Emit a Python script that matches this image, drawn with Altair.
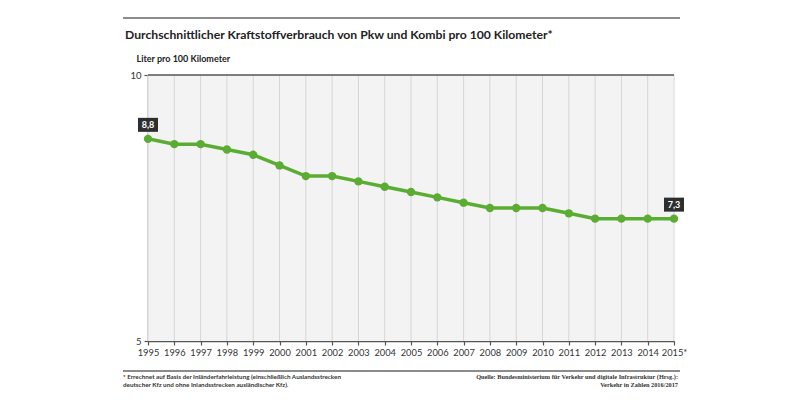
import altair as alt
import pandas as pd

# ---- data ----
years = ["1995", "1996", "1997", "1998", "1999", "2000", "2001", "2002", "2003",
         "2004", "2005", "2006", "2007", "2008", "2009", "2010", "2011", "2012",
         "2013", "2014", "2015*"]
values = [8.8, 8.7, 8.7, 8.6, 8.5, 8.3, 8.1, 8.1, 8.0, 7.9, 7.8, 7.7, 7.6,
          7.5, 7.5, 7.5, 7.4, 7.3, 7.3, 7.3, 7.3]
label_years = ["1995", "2015*"]
label_values = [8.8, 7.3]
label_texts = ["8,8", "7,3"]

title_text = "Durchschnittlicher Kraftstoffverbrauch von Pkw und Kombi pro 100 Kilometer*"
y_title = "Liter pro 100 Kilometer"
foot1 = "* Errechnet auf Basis der Inländerfahrleistung (einschließlich Auslandsstrecken"
foot2 = "deutscher Kfz und ohne Inlandsstrecken ausländischer Kfz)."
src1 = "Quelle: Bundesministerium für Verkehr und digitale Infrastruktur (Hrsg.):"
src2 = "Verkehr in Zahlen 2016/2017"

df = pd.DataFrame({"year": years, "value": values})
df_lab = pd.DataFrame({"year": label_years, "value": label_values, "text": label_texts})
df_one = pd.DataFrame({"k": [0]})

W, H = 526, 266
GREEN = "#5aad32"
DARK = "#555555"
FONT = "Lato"

xs = alt.Scale(type="point", padding=0, domain=years)
ys = alt.Scale(domain=[5, 10])

X = alt.X("year:N", scale=xs, sort=years,
          axis=alt.Axis(title=None, labelAngle=0, grid=False, domainColor=DARK,
                        domainWidth=1.5, tickColor=DARK, tickSize=4, tickWidth=1.2,
                        labelFontSize=9.3, labelColor="#333333", labelFont=FONT,
                        labelPadding=3))
Y = alt.Y("value:Q", scale=ys,
          axis=alt.Axis(values=[5, 10], grid=False, title=y_title, titleAngle=0,
                        titleAlign="left", titleBaseline="bottom", titleX=-12,
                        titleY=-12, titleFont=FONT, titleFontSize=9,
                        titleFontWeight="bold", titleColor="#222222",
                        domainColor=DARK, domainWidth=1.5, tickColor=DARK,
                        tickSize=4, tickWidth=1.2, labelFontSize=9.5,
                        labelColor="#333333", labelFont=FONT, labelPadding=3))

# plot background (light hatch tone)
bg = alt.Chart(df_one).mark_rect(color="#f3f3f3").encode(
    x=alt.value(0), x2=alt.value(W), y=alt.value(0), y2=alt.value(H))

grid = alt.Chart(df).mark_rule(color="#d6d6d6", strokeWidth=1).encode(
    x=X, y=alt.value(0), y2=alt.value(H))

top_line = alt.Chart(df_one).mark_rule(color=DARK, strokeWidth=1.5).encode(
    x=alt.value(0), x2=alt.value(W), y=alt.value(0))

line = alt.Chart(df).mark_line(color=GREEN, strokeWidth=3.5).encode(x=X, y=Y)
pts = alt.Chart(df).mark_circle(color=GREEN, size=70, opacity=1).encode(x=X, y=Y)

BOX = "M-1.43,-1L1.43,-1L1.43,1L-1.43,1Z"
boxes = alt.Chart(df_lab).mark_point(shape=BOX, filled=True, color="#2e2e2e", size=196,
                                     opacity=1, yOffset=-14).encode(x=X, y=Y)
box_text = alt.Chart(df_lab).mark_text(color="white", fontWeight="bold", fontSize=9,
                                       font=FONT, yOffset=-14, baseline="middle").encode(
    x=X, y=Y, text="text:N")

rule_top = alt.Chart(df_one).mark_rule(color="#666666", strokeWidth=1.5).encode(
    x=alt.value(-25), x2=alt.value(532), y=alt.value(-57))
rule_bottom = alt.Chart(df_one).mark_rule(color="#666666", strokeWidth=1.5).encode(
    x=alt.value(-25), x2=alt.value(532), y=alt.value(30 + H))


def ftext(t, x, y, align, font):
    return alt.Chart(df_one).mark_text(align=align, baseline="alphabetic", fontSize=6.3,
                                       font=font, fontWeight="bold",
                                       color="#333333").encode(
        x=alt.value(x), y=alt.value(y), text=alt.value(t))


foot = [ftext(foot1, -25, 38 + H, "left", FONT), ftext(foot2, -25, 45.5 + H, "left", FONT),
        ftext(src1, 530, 38 + H, "right", "Liberation Serif"),
        ftext(src2, 530, 45.5 + H, "right", "Liberation Serif")]

chart = alt.layer(bg, grid, top_line, line, pts, boxes, box_text, rule_top, rule_bottom,
                  *foot).properties(
    width=W, height=H,
    title=alt.TitleParams(title_text, anchor="start", frame="group", dx=-23, dy=28,
                          font=FONT, fontSize=12.2, fontWeight="bold", color="#222222"),
    autosize=alt.AutoSizeParams(type="none"),
    padding={"left": 140, "top": 67, "right": 110, "bottom": 50},
).configure_view(stroke=None)

chart.save("out.html", embed_options={"renderer": "svg", "actions": False})
